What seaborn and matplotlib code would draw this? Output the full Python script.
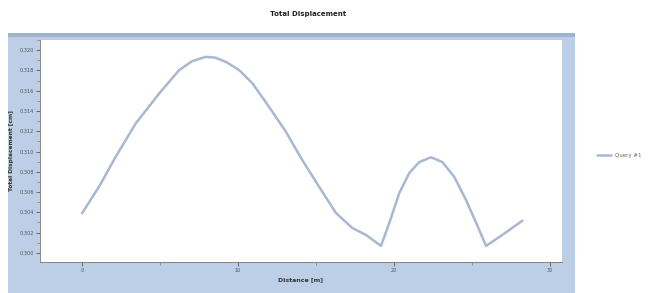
import matplotlib
matplotlib.use("Agg")
import matplotlib.pyplot as plt
import matplotlib.patches as mpatches
from matplotlib.ticker import MultipleLocator, FormatStrFormatter
import seaborn as sns
import pandas as pd

distance = [0.0, 1.09, 2.16, 3.45, 4.95, 6.23, 7.06, 7.94, 8.54, 9.23, 10.08,
            10.92, 12.01, 13.08, 14.13, 15.22, 16.29, 17.34, 18.22, 19.18, 19.72,
            20.36, 21.00, 21.64, 22.40, 23.12, 23.89, 24.64, 25.29, 25.93, 26.97,
            28.26]
displacement = [0.30391, 0.30653, 0.30949, 0.31278, 0.31573, 0.31803, 0.31891,
                0.31934, 0.31926, 0.31884, 0.31803, 0.31675, 0.31438, 0.31195,
                0.30916, 0.30650, 0.30394, 0.30246, 0.30177, 0.30069, 0.30296,
                0.30591, 0.30788, 0.30896, 0.30943, 0.30896, 0.30749, 0.30522,
                0.30296, 0.30069, 0.30177, 0.30318]
series_name = "Query #1"
x_ticks = [0, 10, 20, 30]
y_ticks = [0.300, 0.302, 0.304, 0.306, 0.308, 0.310, 0.312, 0.314, 0.316, 0.318, 0.320]

df = pd.DataFrame({"Distance [m]": distance, "Total Displacement [cm]": displacement,
                   "series": series_name})

sns.set_theme(style="white")
fig = plt.figure(figsize=(6.54, 2.93), dpi=100)
fig.patch.set_facecolor("white")

W, H = 654, 293
panel = mpatches.Rectangle((8 / W, 0), (575 - 8) / W, (293 - 33) / H,
                           transform=fig.transFigure, facecolor="#bccfe6",
                           edgecolor="none", zorder=-2)
fig.patches.append(panel)
strip = mpatches.Rectangle((8 / W, (293 - 37) / H), (575 - 8) / W, 4 / H,
                           transform=fig.transFigure, facecolor="#9fb3cc",
                           edgecolor="none", zorder=-1)
fig.patches.append(strip)

ax = fig.add_axes([40 / W, (293 - 262) / H, (562 - 40) / W, (262 - 40) / H])
ax.set_zorder(2)
ax.set_facecolor("white")
sns.lineplot(data=df, x="Distance [m]", y="Total Displacement [cm]", hue="series",
             palette=["#a9b8d1"], linewidth=1.8, ax=ax)
for ln in ax.get_lines():
    ln.set_solid_joinstyle("round")
    ln.set_solid_capstyle("round")

ax.set_xlim(-2.7, 30.8)
ax.set_ylim(0.2991, 0.3210)
ax.set_xticks(x_ticks)
ax.set_yticks(y_ticks)
ax.xaxis.set_minor_locator(MultipleLocator(5))
ax.yaxis.set_minor_locator(MultipleLocator(0.001))
ax.yaxis.set_major_formatter(FormatStrFormatter("%.3f"))
ax.tick_params(axis="both", which="major", direction="out", length=3, width=0.6,
               labelsize=3.6, colors="#555555", pad=1.5, bottom=True, left=True)
ax.tick_params(axis="both", which="minor", direction="out", length=2, width=0.5,
               colors="#777777", bottom=True, left=True)
for side in ["top", "right"]:
    ax.spines[side].set_visible(False)
for side in ["left", "bottom"]:
    ax.spines[side].set_color("#777777")
    ax.spines[side].set_linewidth(0.6)

ax.set_xlabel("Distance [m]", fontsize=4.5, fontweight="bold", color="#333333", labelpad=3)
ax.set_ylabel("Total Displacement [cm]", fontsize=4.2, fontweight="bold", color="#333333")
ax.yaxis.set_label_coords(-0.05, 0.5)
fig.text(308 / W, 1 - 14 / H, "Total Displacement", ha="center", va="center",
         fontsize=5, fontweight="bold", color="#222222")

leg = ax.legend(loc="center left", bbox_to_anchor=(597 / W, 1 - 155 / H),
                bbox_transform=fig.transFigure, frameon=False, fontsize=4,
                handlelength=2.5, borderaxespad=0, borderpad=0)
for t in leg.get_texts():
    t.set_color("#666666")

fig.savefig("out.png", dpi=100, facecolor="white")
